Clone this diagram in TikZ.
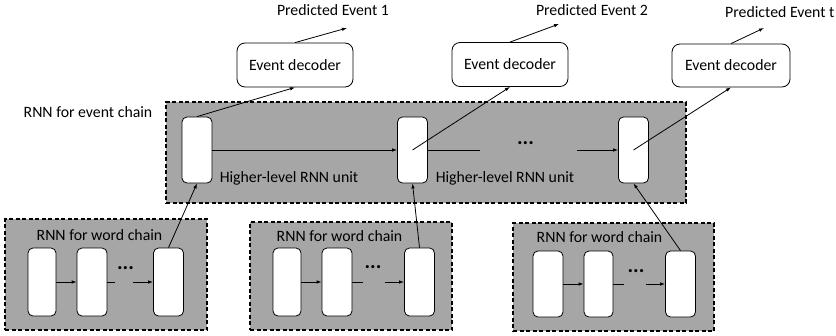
\documentclass[tikz,border=0pt]{standalone}
\usepackage{fontspec}
\setmainfont{Carlito}
\usetikzlibrary{arrows.meta}

\begin{document}
\begin{tikzpicture}[x=1pt,y=-1pt,>={Latex[length=5pt,width=3.5pt]},
    font=\fontsize{15.8}{19}\selectfont]

      \useasboundingbox (0,0) rectangle (836,335);

      % dashed grey containers
      \begin{scope}[every node/.style={draw,fill=gray!70,line width=1.5pt,
          dash pattern=on 4pt off 2.5pt,inner sep=0pt}]
        \node (ebox) at (426,152.5) [minimum width=520,minimum height=101] {};
        \node (wbox1) at (106,274.5) [minimum width=202,minimum height=111] {};
        \node (wbox2) at (351,276)   [minimum width=202,minimum height=108] {};
        \node (wbox3) at (613.5,277) [minimum width=201,minimum height=108] {};
      \end{scope}

      % rnn cells
      \begin{scope}[every node/.style={draw,fill=white,rounded corners=5pt,
          line width=0.8pt,minimum width=30,minimum height=66,inner sep=0pt}]
        \node (e1) at (197,150)   {};
        \node (e2) at (412.5,150) {};
        \node (e3) at (633.5,150) {};

        \node (w11) at (42,282)    [minimum width=28,minimum height=68] {};
        \node (w12) at (92,282)    [minimum height=68] {};
        \node (w13) at (168.5,282) [minimum height=68] {};
        \node (w21) at (287,282)   [minimum width=28,minimum height=68] {};
        \node (w22) at (337,282)   [minimum height=68] {};
        \node (w23) at (419.5,282) [minimum height=68] {};
        \node (w31) at (548,284)   [minimum height=66] {};
        \node (w32) at (598.5,284) [minimum width=29,minimum height=66] {};
        \node (w33) at (680.5,284) [minimum height=66] {};
      \end{scope}

      % decoders
      \begin{scope}[every node/.style={draw,fill=white,rounded corners=8pt,
          line width=0.8pt,minimum width=116,minimum height=44,inner sep=0pt}]
        \node (d1) at (295,65)   {Event decoder};
        \node (d2) at (510,64.5) {Event decoder};
        \node (d3) at (731,65.5) [minimum width=118,minimum height=43] {Event decoder};
      \end{scope}

      % texts
      \node (p1) at (333,10) {Predicted Event 1};
      \node (p2) at (592,10) {Predicted Event 2};
      \node (p3) at (725,12) [anchor=west,inner sep=0pt] {Predicted Event t};
      \node (elab) at (88,112) {RNN for event chain};
      \node (h1) at (289,178) {Higher-level RNN unit};
      \node (h2) at (505,178) {Higher-level RNN unit};
      \node (wlab1) at (99.5,235) {RNN for word chain};
      \node (wlab2) at (339.5,236) {RNN for word chain};
      \node (wlab3) at (599.5,237) {RNN for word chain};

      \begin{scope}[every node/.style={inner sep=0pt,font=\fontsize{21}{24}\selectfont\bfseries}]
        \node (edots) at (525.5,143) {...};
        \node (dots1) at (125.5,268) {...};
        \node (dots2) at (373,267) {...};
        \node (dots3) at (636,271) {...};
      \end{scope}

      \coordinate (ea) at (480,150);
      \coordinate (eb) at (577,150);
      \coordinate (a1) at (115,282);
      \coordinate (b1) at (133,282);
      \coordinate (a2) at (363,282);
      \coordinate (b2) at (385,282);
      \coordinate (a3) at (624,284);
      \coordinate (b3) at (646,284);
      \coordinate (t1) at (347,28);
      \coordinate (t2) at (559,24);
      \coordinate (t3) at (764,28);

      \begin{scope}[every edge/.style={draw,line width=0.8pt}]
        % event chain
        \path (e1) edge[->] (e2);
        \path (e2) edge (ea);
        \path (eb) edge[->] (e3);
        % word chains
        \path (w11) edge[->] (w12);
        \path (w12) edge (a1);
        \path (b1) edge[->] (w13);
        \path (w21) edge[->] (w22);
        \path (w22) edge (a2);
        \path (b2) edge[->] (w23);
        \path (w31) edge[->] (w32);
        \path (w32) edge (a3);
        \path (b3) edge[->] (w33);
        % word chain to event unit
        \path (w13.north) edge[->] (e1.south);
        \path (w23.north) edge[->] (e2.south);
        \path (w33.north) edge[->] (e3.south);
        % event unit to decoder
        \path (e1.north) edge[->] (d1.south);
        \path (e2.center) edge[->] (d2.south);
        \path (e3.center) edge[->] (d3.south);
        % decoder to prediction
        \path (d1.north) edge[->] (t1);
        \path (d2.north) edge[->] (t2);
        \path (d3.north) edge[->] (t3);
      \end{scope}

    \end{tikzpicture}
\end{document}
